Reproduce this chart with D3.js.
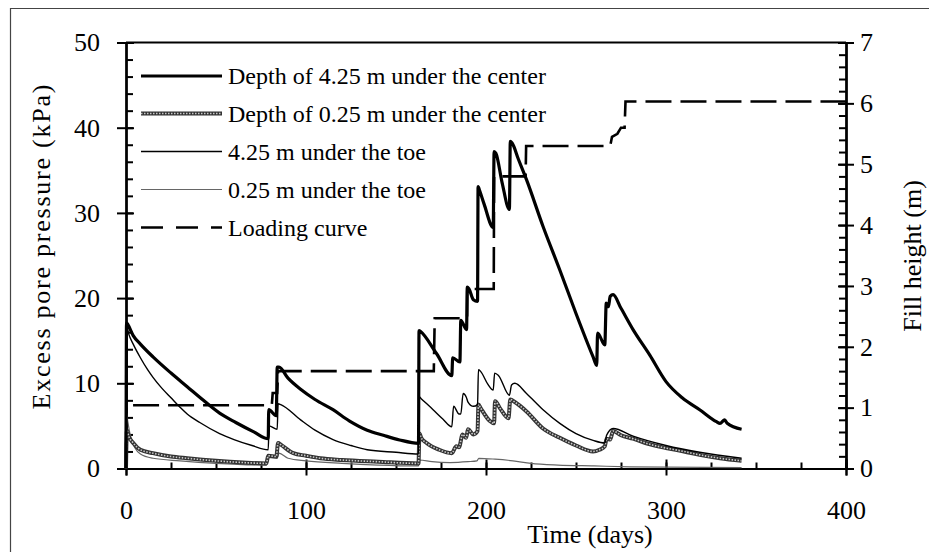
<!DOCTYPE html>
<html><head><meta charset="utf-8">
<script src="https://cdn.jsdelivr.net/npm/d3@7"></script>
<style>
html,body{margin:0;padding:0;background:#fff;}
svg{display:block;}
text{font-family:"Liberation Serif","Times New Roman",serif;fill:#000;}
</style></head><body>
<svg id="chart" width="929" height="552"></svg>
<script>
// ---------------- DATA ----------------
const seriesNames = [
  "Depth of 4.25 m under the center",
  "Depth of 0.25 m under the center",
  "4.25 m under the toe",
  "0.25 m under the toe",
  "Loading curve"
];
// [time (days), excess pore pressure (kPa)]
const center425 = [[0,0],[0.3,17.1],[1,16.9],[4,15.6],[8,14.6],[15,13.1],[25,11.2],[34,9.6],[43,8.0],[52,6.5],[61,5.4],[71,4.3],[79,3.5],[79.3,6.9],[83.5,6.2],[84,11.9],[85,11.9],[90,10.6],[97,9.3],[105,8.1],[115,6.9],[124,5.6],[134,4.5],[143,3.9],[152,3.35],[162.5,2.96],[162.8,16.2],[163.5,16.1],[172.5,13.5],[181,10.9],[181.5,13.0],[185.5,12.5],[186,17.4],[189.2,16.3],[189.6,21.3],[190.5,21.1],[193,19.8],[195.3,19.6],[195.6,33.1],[196.5,32.6],[199,31.0],[204,28.3],[204.5,37.2],[205.5,37.0],[209,33.5],[213,30.4],[213.5,38.4],[214.5,38.2],[218,36.3],[222.5,33.9],[231.7,28.4],[241,23.3],[250,18.2],[259.5,13.1],[261.5,12.1],[262,15.9],[266,14.5],[266.8,19.4],[268,19.0],[269,20.2],[270.6,20.4],[275,18.8],[281.7,16.3],[291,13.3],[300,10.2],[309,8.3],[318.7,6.9],[328,5.5],[330,5.3],[332.6,5.7],[334,5.3],[342,4.6]];
const center025 = [[0,0],[0.5,4.5],[1.5,3.8],[4,3.0],[8,2.2],[15,1.8],[25,1.4],[34,1.2],[50,0.9],[65,0.7],[78,0.6],[79,1.5],[83.5,1.4],[84.5,3.0],[86,2.8],[93,1.8],[100,1.5],[108,1.2],[120,1.0],[140,0.8],[162.5,0.6],[163,4.1],[164,3.6],[167,3.0],[174,2.2],[181,1.8],[183.5,2.6],[185,2.5],[187,4.0],[189,3.6],[190,4.6],[193,4.0],[195.3,4.4],[195.8,7.5],[197,7.1],[202,5.6],[204.5,5.3],[205,7.9],[208,7.0],[212.5,5.9],[213.5,8.1],[216,7.8],[222.5,6.7],[231.7,4.7],[241,3.6],[250,2.7],[259.5,2.0],[263,2.2],[266,2.6],[267,3.5],[269,3.4],[270.6,4.4],[275,3.9],[281.7,3.5],[290,2.9],[300,2.4],[310,2.0],[318.7,1.6],[330,1.2],[342,0.9]];
const toe425 = [[0,0],[0.5,16.6],[1.5,15.8],[4,14.6],[8,13.0],[12,11.6],[15,10.7],[20,9.4],[25,8.3],[30,7.2],[34,6.4],[41,5.4],[52,4.1],[60,3.4],[70,2.7],[79,2.2],[79.5,5.0],[84,4.6],[84.5,7.6],[86,7.5],[97,5.7],[105,4.5],[115,3.4],[125,2.7],[134,2.2],[150,1.9],[162.5,1.7],[163,8.4],[164,8.2],[170.6,6.9],[176,5.8],[181,4.9],[182,7.3],[185,6.4],[186,6.4],[187.3,8.8],[189,8.4],[190,7.8],[193,7.3],[195.3,7.5],[195.8,11.6],[197,11.4],[201,9.9],[204,9.2],[204.8,11.2],[207,10.9],[213,8.6],[214.2,9.8],[216,10.0],[222.5,8.8],[231.7,6.9],[241,5.3],[250,4.1],[259.5,3.3],[266,3.0],[267,3.9],[270.6,4.7],[281.7,3.8],[300,2.7],[318.7,1.9],[342,1.2]];
const toe025 = [[0,0],[0.3,6.5],[1,5.5],[2.5,3.8],[5,2.4],[8,1.7],[15,1.2],[30,0.9],[50,0.6],[78,0.4],[79,1.3],[84,1.2],[85,1.8],[90,1.2],[100,0.9],[120,0.6],[140,0.4],[162.5,0.3],[163,1.0],[170,0.8],[180,0.7],[190,0.8],[195,0.9],[196,1.2],[205,1.1],[215,0.9],[225,0.6],[240,0.4],[260,0.3],[280,0.2],[342,0.1]];
// [time (days), fill height (m)]
const loading = [[0,0],[0.2,1.04],[81,1.04],[81.5,1.24],[84,1.24],[84.5,1.6],[171,1.6],[171.5,2.47],[189.5,2.47],[189.6,2.95],[204.3,2.95],[204.5,4.8],[222,4.8],[222.3,5.3],[269,5.3],[270,5.45],[273,5.5],[275,5.6],[277,5.6],[277.5,6.03],[400,6.03]];

const xTicks = [0,100,200,300,400];
const yLeftTicks = [0,10,20,30,40,50];
const yRightTicks = [0,1,2,3,4,5,6,7];

// ---------------- LAYOUT ----------------
const svg = d3.select("#chart");
const X0 = 126, X1 = 846, Y0 = 468.5, Y1 = 42.5;
const x = d3.scaleLinear().domain([0,400]).range([X0,X1]);
const yL = d3.scaleLinear().domain([0,50]).range([Y0,Y1]);
const yR = d3.scaleLinear().domain([0,7]).range([Y0,Y1]);

svg.append("rect").attr("width",929).attr("height",552).attr("fill","#fff");
// outer frame
svg.append("path").attr("d","M10.5,560 V8.5 H940").attr("fill","none").attr("stroke","#444").attr("stroke-width",1.2);

// top frame line
svg.append("line").attr("x1",X0).attr("x2",X1).attr("y1",Y1).attr("y2",Y1).attr("stroke","#000").attr("stroke-width",2);

function styleAxis(g){
  g.select(".domain").attr("stroke","#000").attr("stroke-width",2);
  g.selectAll(".tick line").attr("stroke","#000").attr("stroke-width",2);
  g.selectAll("text").style("font-family","'Liberation Serif','Times New Roman',serif").style("font-size","26px").attr("fill","#000");
}
const range = (a,b,s)=>d3.range(a,b+s/2,s).map(v=>+v.toFixed(4));

// bottom axis: minor inward
svg.append("g").attr("transform",`translate(0,${Y0})`)
  .call(d3.axisBottom(x).tickValues(range(0,400,25)).tickSize(-6).tickFormat(""))
  .call(styleAxis);
// bottom axis: major inward
svg.append("g").attr("transform",`translate(0,${Y0})`)
  .call(d3.axisBottom(x).tickValues(xTicks).tickSize(-9).tickFormat(""))
  .call(styleAxis);
// bottom axis: major outward with labels
svg.append("g").attr("transform",`translate(0,${Y0})`)
  .call(d3.axisBottom(x).tickValues(xTicks).tickSize(7).tickPadding(25).tickFormat(d3.format("d")))
  .call(styleAxis);

// left axis
svg.append("g").attr("transform",`translate(${X0},0)`)
  .call(d3.axisLeft(yL).tickValues(range(0,50,2)).tickSize(-7).tickFormat(""))
  .call(styleAxis);
svg.append("g").attr("transform",`translate(${X0},0)`)
  .call(d3.axisLeft(yL).tickValues(yLeftTicks).tickSize(-8).tickFormat(""))
  .call(styleAxis);
svg.append("g").attr("transform",`translate(${X0},0)`)
  .call(d3.axisLeft(yL).tickValues(yLeftTicks).tickSize(9).tickPadding(17).tickFormat(d3.format("d")))
  .call(styleAxis);

// right axis
svg.append("g").attr("transform",`translate(${X1},0)`)
  .call(d3.axisRight(yR).tickValues(range(0,7,0.2)).tickSize(-7).tickFormat(""))
  .call(styleAxis);
svg.append("g").attr("transform",`translate(${X1},0)`)
  .call(d3.axisRight(yR).tickValues(yRightTicks).tickSize(-8).tickFormat(""))
  .call(styleAxis);
svg.append("g").attr("transform",`translate(${X1},0)`)
  .call(d3.axisRight(yR).tickValues(yRightTicks).tickSize(8).tickPadding(6).tickFormat(d3.format("d")))
  .call(styleAxis);

// axis titles
svg.append("text").attr("x",590).attr("y",543).attr("text-anchor","middle").style("font-size","26px").text("Time (days)");
svg.append("text").attr("transform","translate(50,247) rotate(-90)").attr("text-anchor","middle")
  .attr("textLength",325).attr("lengthAdjust","spacing").style("font-size","26px").text("Excess pore pressure (kPa)");
svg.append("text").attr("transform","translate(921,256) rotate(-90)").attr("text-anchor","middle").style("font-size","26px").text("Fill height (m)");

// ---------------- LINES ----------------
const lineL = d3.line().curve(d3.curveMonotoneX).x(d=>x(d[0])).y(d=>yL(d[1]));
const lineR = d3.line().x(d=>x(d[0])).y(d=>yR(d[1]));
const plot = svg.append("g");

plot.append("path").attr("d",lineR(loading)).attr("fill","none").attr("stroke","#000").attr("stroke-width",2.6).attr("stroke-dasharray","26,9");
plot.append("path").attr("d",lineL(toe025)).attr("fill","none").attr("stroke","#666").attr("stroke-width",1.2);
plot.append("path").attr("d",lineL(center025)).attr("fill","none").attr("stroke","#333").attr("stroke-width",4).attr("stroke-linejoin","round");
plot.append("path").attr("d",lineL(center025)).attr("fill","none").attr("stroke","#c8c8c8").attr("stroke-width",1.6).attr("stroke-dasharray","1.5,1.5");
plot.append("path").attr("d",lineL(toe425)).attr("fill","none").attr("stroke","#000").attr("stroke-width",1.4).attr("stroke-linejoin","round");
plot.append("path").attr("d",lineL(center425)).attr("fill","none").attr("stroke","#000").attr("stroke-width",3.2).attr("stroke-linejoin","round");

// ---------------- LEGEND ----------------
const legRows = [76,113.5,151.5,189.5,227.5];
const lg = svg.append("g");
const lx1 = 141, lx2 = 222;
function legLine(i, attrs){
  const l = lg.append("line").attr("x1",lx1).attr("x2",lx2).attr("y1",legRows[i]).attr("y2",legRows[i]).attr("fill","none");
  Object.entries(attrs).forEach(([k,v])=>l.attr(k,v));
}
legLine(0,{stroke:"#000","stroke-width":3.2});
legLine(1,{stroke:"#333","stroke-width":4});
legLine(1,{stroke:"#c8c8c8","stroke-width":1.6,"stroke-dasharray":"1.5,1.5"});
legLine(2,{stroke:"#000","stroke-width":1.4});
legLine(3,{stroke:"#666","stroke-width":1.2});
legLine(4,{stroke:"#000","stroke-width":2.6,"stroke-dasharray":"22,13"});
seriesNames.forEach((n,i)=>{
  lg.append("text").attr("x",228).attr("y",legRows[i]+8).style("font-size","24px").text(n);
});
</script>
</body></html>
